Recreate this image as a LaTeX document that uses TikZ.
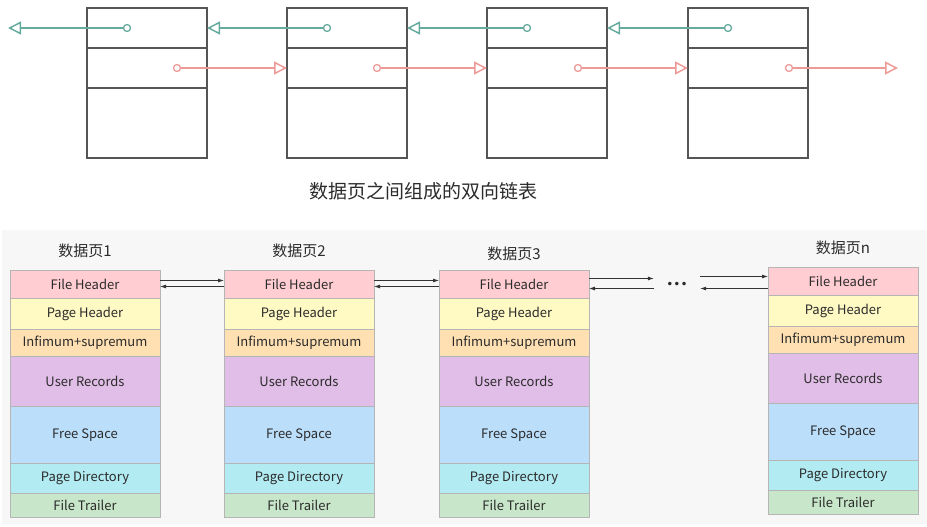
\documentclass[tikz,border=0pt]{standalone}
\usepackage{fontspec}
\setmainfont{Noto Sans CJK SC}
\newfontfamily\dotfont{DejaVu Sans}
\usetikzlibrary{arrows.meta,positioning}
\definecolor{txt}{HTML}{2B2B2B}
\definecolor{boxline}{HTML}{555555}
\definecolor{laygray}{HTML}{B5B5B5}
\definecolor{panel}{HTML}{F7F7F7}
\definecolor{prevc}{HTML}{67AB9F}
\definecolor{nextc}{HTML}{EE9B98}
\definecolor{arr}{HTML}{333333}
\definecolor{fhc}{HTML}{FFCDD2}
\definecolor{phc}{HTML}{FFF9C4}
\definecolor{imc}{HTML}{FFE0B2}
\definecolor{urc}{HTML}{E1BEE7}
\definecolor{fsc}{HTML}{BBDEFB}
\definecolor{pdc}{HTML}{B2EBF2}
\definecolor{ftc}{HTML}{C8E6C9}
\begin{document}
\begin{tikzpicture}[x=1pt,y=-1pt,
    cell/.style={draw=boxline,line width=1.2pt,minimum width=120pt,inner sep=0pt,
        outer sep=0pt,anchor=north},
    layer/.style={draw=laygray,line width=0.8pt,minimum width=150pt,inner sep=0pt,
        outer sep=0pt,anchor=north,font=\fontsize{13}{13}\selectfont,text=txt},
    ring/.style={circle,draw,line width=1.3pt,fill=white,inner sep=0pt,minimum size=7pt},
    ptr/.style={line width=1.5pt,-{Triangle[open,length=13pt,width=13pt]}},
    link/.style={draw=arr,line width=0.8pt,-{Latex[length=6pt,width=4pt]}}]
\useasboundingbox (0,0) rectangle (927,527);
\fill[panel] (2,230) rectangle (927,524);
% pages of the list
\foreach \px/\rx [count=\i] in {87/90,287/90,487/91,688/101} {
    \node[cell,minimum height=40pt] (p\i-a) at (\px+60,8) {};
    \node[cell,minimum height=40pt] (p\i-b) at (p\i-a.south) {};
    \node[cell,minimum height=70pt] (p\i-c) at (p\i-b.south) {};
    \node[ring,draw=prevc] (g\i) at (\px+40,28) {};
    \node[ring,draw=nextc] (r\i) at (\px+\rx,68) {};
}
\coordinate (head) at (8,28);
\coordinate (tail) at (898,68);
\foreach \i/\dst in {1/head,2/p1-a.east,3/p2-a.east,4/p3-a.east}
    \draw[ptr,draw=prevc] (g\i) -- (\dst);
\foreach \i/\dst in {1/p2-b.west,2/p3-b.west,3/p4-b.west,4/tail}
    \draw[ptr,draw=nextc] (r\i) -- (\dst);
\node[font=\fontsize{19}{19}\selectfont,text=txt] (cap) at (423,191) {数据页之间组成的双向链表};
% page layout
\foreach \px/\py/\ty/\num [count=\i] in {85/270/251/1,299/270/251/2,514/270/254/3,843/267/248/n} {
    \node[font=\fontsize{15}{15}\selectfont,text=txt] (t\i) at (\px,\ty) {数据页\num};
    \node[inner sep=0pt,outer sep=0pt] (s\i-0) at (\px,\py) {};
    \foreach \lh/\lc/\lt [count=\j, remember=\j as \k (initially 0)] in
        {28/fhc/File Header,31/phc/Page Header,27/imc/Infimum+supremum,
         50/urc/User Records,57/fsc/Free Space,30/pdc/Page Directory,24/ftc/File Trailer}
        \node[layer,fill=\lc,minimum height=\lh pt] (s\i-\j) at (s\i-\k.south) {\lt};
}
\node[minimum width=46pt,inner sep=0pt,text=txt,font=\dotfont\fontsize{12}{12}\selectfont] (dots) at (677,285) {•••};
\foreach \a/\b in {1/2,2/3} {
    \draw[link] ([yshift=4pt]s\a-1.east) -- ([yshift=4pt]s\b-1.west);
    \draw[link] ([yshift=-2pt]s\b-1.west) -- ([yshift=-2pt]s\a-1.east);
}
\draw[link] ([yshift=6pt]s3-1.east) -- ([yshift=6pt]s3-1.east -| dots.west);
\draw[link] ([yshift=-4pt]s3-1.east -| dots.west) -- ([yshift=-4pt]s3-1.east);
\draw[link] ([yshift=5pt]s4-1.west -| dots.east) -- ([yshift=5pt]s4-1.west);
\draw[link] ([yshift=-7pt]s4-1.west) -- ([yshift=-7pt]s4-1.west -| dots.east);
\end{tikzpicture}
\end{document}
